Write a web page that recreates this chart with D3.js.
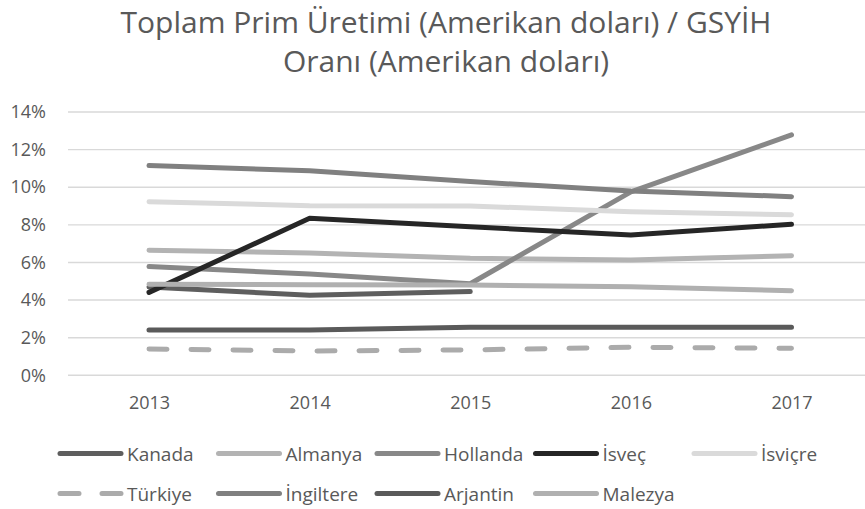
<!DOCTYPE html>
<html>
<head>
<meta charset="utf-8">
<script src="https://cdn.jsdelivr.net/npm/d3@7"></script>
<style>
  body { margin: 0; background: #fff; }
  text { font-family: "Open Sans", sans-serif; fill: #595959; }
</style>
</head>
<body>
<div id="chartDiv"></div>
<script>
//----------------------------------------------------------------------------------------------------
var titleLines = ["Toplam Prim Üretimi (Amerikan doları) / GSYİH", "Oranı (Amerikan doları)"];
var years = ["2013", "2014", "2015", "2016", "2017"];
var yTicks = [0, 2, 4, 6, 8, 10, 12, 14];

var countries = ["Kanada", "Almanya", "Hollanda", "İsveç", "İsviçre",
                 "Türkiye", "İngiltere", "Arjantin", "Malezya"];

   // percent of GDP (null = no value)
var kanada    = [4.70, 4.25, 4.45, null, null];
var almanya   = [6.65, 6.50, 6.22, 6.13, 6.36];
var hollanda  = [5.78, 5.39, 4.87, 9.75, 12.78];
var isvec     = [4.41, 8.35, 7.90, 7.46, 8.03];
var isvicre   = [9.23, 9.02, 9.00, 8.70, 8.54];
var turkiye   = [1.40, 1.29, 1.35, 1.49, 1.44];
var ingiltere = [11.15, 10.87, 10.30, 9.80, 9.50];
var arjantin  = [2.41, 2.41, 2.56, 2.56, 2.56];
var malezya   = [4.84, 4.82, 4.80, 4.71, 4.50];

var seriesValues = [kanada, almanya, hollanda, isvec, isvicre,
                    turkiye, ingiltere, arjantin, malezya];

var colors = ["#5e5e5e", "#b3b3b3", "#888888", "#262626", "#dadada",
              "#ababab", "#808080", "#5a5a5a", "#b0b0b0"];
//----------------------------------------------------------------------------------------------------
var width = 865;
var height = 509;

var svg = d3.select("#chartDiv")
    .append("svg")
    .attr("width", width)
    .attr("height", height);

var xScale = d3.scalePoint()
               .domain(years)
               .range([149, 791.5]);

var yScale = d3.scaleLinear()
               .domain([0, 14])
               .range([375.3, 112]);   // note inversion

   // title, two centered lines
svg.selectAll("text.title")
   .data(titleLines)
   .enter()
   .append("text")
   .attr("class", "title")
   .attr("x", 446)
   .attr("y", function(d, i){ return 33 + i * 39; })
   .attr("text-anchor", "middle")
   .style("font-size", "30px")
   .text(function(d){ return d; });

   // horizontal grid lines
svg.append("g")
   .selectAll("line")
   .data(yTicks)
   .enter()
   .append("line")
   .attr("x1", 68)
   .attr("x2", width)
   .attr("y1", function(d){ return yScale(d); })
   .attr("y2", function(d){ return yScale(d); })
   .style("stroke", "#d9d9d9")
   .style("stroke-width", 1.4);

var yAxis = d3.axisLeft(yScale)
              .tickValues(yTicks)
              .tickSize(0)
              .tickPadding(0)
              .tickFormat(function(d){ return d + "%"; });

var gy = svg.append("g")
   .attr("transform", "translate(46,0)")
   .call(yAxis);
gy.select(".domain").remove();
gy.selectAll("text").style("font-size", "18px").style("fill", "#595959")
   .attr("font-family", null);

var xAxis = d3.axisBottom(xScale)
              .tickSize(0)
              .tickPadding(0);

var gx = svg.append("g")
   .attr("transform", "translate(0,396)")
   .call(xAxis);
gx.select(".domain").remove();
gx.selectAll("text").style("font-size", "18px").style("fill", "#595959")
   .attr("font-family", null);

   // the lines, drawn in legend order
var lineGen = d3.line()
                .defined(function(d){ return d.v != null; })
                .x(function(d){ return xScale(d.year); })
                .y(function(d){ return yScale(d.v); });

seriesValues.forEach(function(vals, i){
   var pts = years.map(function(y, j){ return {year: y, v: vals[j]}; });
   svg.append("path")
      .datum(pts)
      .attr("d", lineGen)
      .style("fill", "none")
      .style("stroke", colors[i])
      .style("stroke-width", 5)
      .style("stroke-linecap", "round")
      .style("stroke-linejoin", "round")
      .style("stroke-dasharray", countries[i] == "Türkiye" ? "18,24" : null);
   });

   // legend, 5 columns x 2 rows
var legend = svg.append("g");
countries.forEach(function(name, i){
   var col = i % 5;
   var row = Math.floor(i / 5);
   var lx = 60 + col * 158.5;
   var ly = 453.5 + row * 40;
   var g = legend.append("g").attr("transform", "translate(" + lx + "," + ly + ")");
   g.append("line")
      .attr("x1", 0)
      .attr("x2", 61)
      .style("stroke", colors[i])
      .style("stroke-width", 5)
      .style("stroke-linecap", "round")
      .style("stroke-dasharray", name == "Türkiye" ? "19,23" : null);
   g.append("text")
      .attr("x", 67)
      .attr("y", 7)
      .style("font-size", "19px")
      .text(name);
   });
//----------------------------------------------------------------------------------------------------
</script>
</body>
</html>
